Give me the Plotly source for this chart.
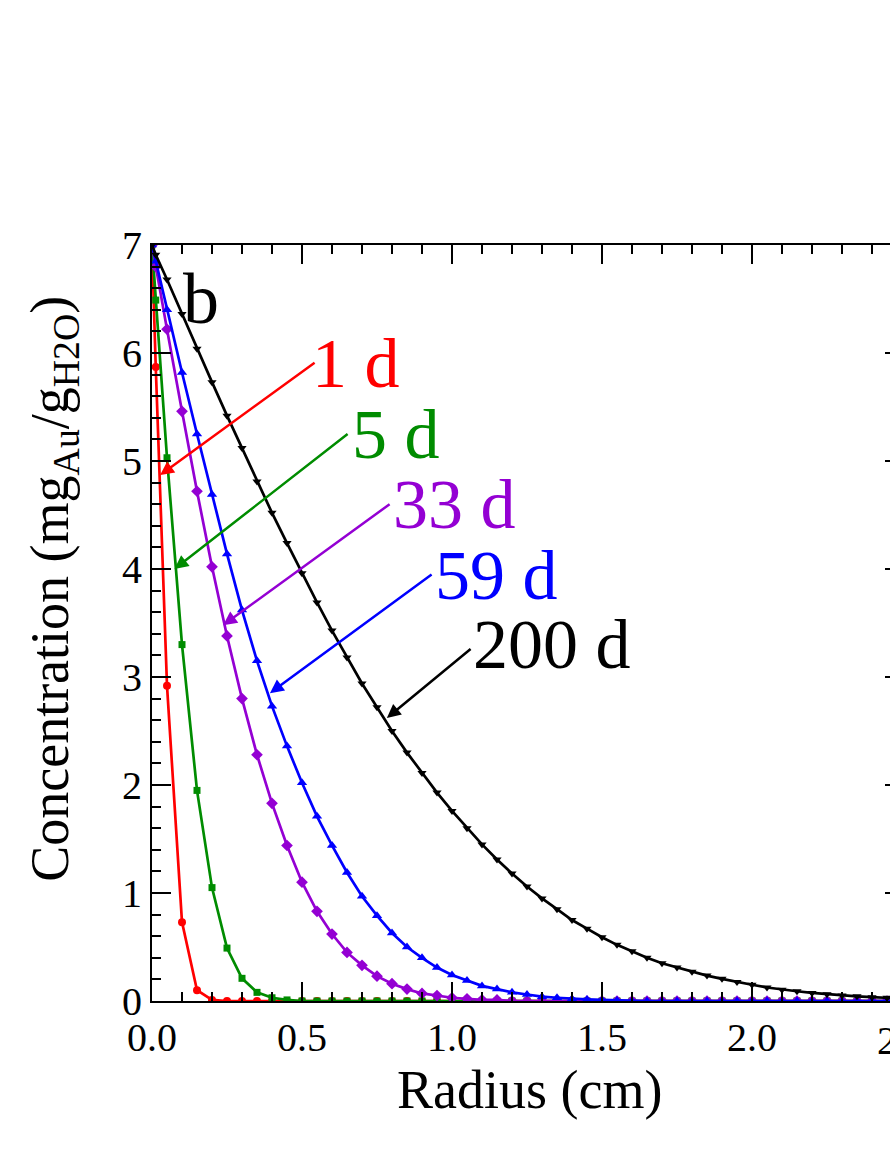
import plotly.graph_objects as go

# ---------------- data ----------------
radius = [0.0, 0.0125, 0.05, 0.10, 0.15, 0.20, 0.25, 0.30, 0.35, 0.40, 0.45, 0.50,
          0.55, 0.60, 0.65, 0.70, 0.75, 0.80, 0.85, 0.90, 0.95, 1.00, 1.05, 1.10,
          1.15, 1.20, 1.25, 1.30, 1.35, 1.40, 1.45, 1.50, 1.55, 1.60, 1.65, 1.70,
          1.75, 1.80, 1.85, 1.90, 1.95, 2.00, 2.05, 2.10, 2.15, 2.20, 2.25, 2.30,
          2.35, 2.40, 2.45, 2.50]

conc_1d = [7.0, 5.87, 2.92, 0.73, 0.10, 0.01] + [0.0] * 46

conc_5d = [7.0, 6.49, 5.03, 3.30, 1.95, 1.05, 0.49, 0.21, 0.08, 0.03, 0.01] + [0.0] * 41

conc_33d = [7.0, 6.80, 6.22, 5.46, 4.72, 4.02, 3.38, 2.80, 2.28, 1.83, 1.44, 1.10,
            0.83, 0.62, 0.45, 0.33, 0.23, 0.16, 0.11, 0.07, 0.05, 0.03, 0.02, 0.01,
            0.01] + [0.0] * 27

conc_59d = [7.0, 6.85, 6.40, 5.82, 5.25, 4.69, 4.14, 3.62, 3.15, 2.73, 2.36, 2.02,
            1.71, 1.44, 1.19, 0.97, 0.79, 0.63, 0.50, 0.40, 0.31, 0.24, 0.19, 0.14,
            0.11, 0.08, 0.06, 0.04, 0.03, 0.02, 0.015, 0.01, 0.005] + [0.0] * 19

conc_200d = [7.0, 6.91, 6.68, 6.36, 6.04, 5.73, 5.42, 5.12, 4.81, 4.52, 4.24, 3.96,
             3.69, 3.43, 3.18, 2.94, 2.72, 2.50, 2.30, 2.11, 1.93, 1.76, 1.60, 1.45,
             1.31, 1.18, 1.06, 0.95, 0.85, 0.75, 0.67, 0.59, 0.52, 0.46, 0.40, 0.35,
             0.31, 0.27, 0.235, 0.205, 0.175, 0.15, 0.125, 0.105, 0.09, 0.075, 0.063,
             0.052, 0.043, 0.035, 0.029, 0.023]

series_labels = ["1 d", "5 d", "33 d", "59 d", "200 d"]
series_data = [conc_1d, conc_5d, conc_33d, conc_59d, conc_200d]
series_colors = ["#ff0000", "#008c00", "#9400d3", "#0000ff", "#000000"]
series_symbols = ["circle", "square", "diamond", "triangle-up", "triangle-down"]
series_msize = [8, 7, 9, 9, 8]

# arrow (head x, head y, tail x, tail y) and label (left x, centre y) in data units
arrow_heads = [(0.027, 4.87), (0.075, 4.0), (0.237, 3.48), (0.393, 2.85), (0.783, 2.62)]
arrow_tails = [(0.547, 5.92), (0.657, 5.26), (0.797, 4.61), (0.937, 3.96), (1.067, 3.27)]
label_pos = [(0.527, 5.90), (0.660, 5.25), (0.797, 4.60), (0.937, 3.94), (1.063, 3.30)]

x_ticks = [0.0, 0.5, 1.0, 1.5, 2.0]
y_ticks = [0, 1, 2, 3, 4, 5, 6, 7]

FONT = "Liberation Serif"

fig = go.Figure()
for lab, ys, col, sym, ms in zip(series_labels, series_data, series_colors,
                                 series_symbols, series_msize):
    fig.add_trace(go.Scatter(
        x=radius, y=ys, mode="lines+markers", name=lab,
        line=dict(color=col, width=2.7),
        marker=dict(symbol=sym, size=ms, color=col, line=dict(width=0)),
        showlegend=False, hoverinfo="skip"))

# dummy trace for right-hand mirrored ticks
fig.add_trace(go.Scatter(x=[0], y=[0], yaxis="y2", mode="markers",
                         marker=dict(size=0.1, opacity=0), showlegend=False,
                         hoverinfo="skip"))

for (hx, hy), (tx, ty), col in zip(arrow_heads, arrow_tails, series_colors):
    fig.add_annotation(x=hx, y=hy, ax=tx, ay=ty, xref="x", yref="y",
                       axref="x", ayref="y", text="", showarrow=True,
                       arrowhead=2, arrowsize=1.1, arrowwidth=2.5, arrowcolor=col)

for (lx, ly), lab, col in zip(label_pos, series_labels, series_colors):
    fig.add_annotation(x=lx, y=ly, xref="x", yref="y", text=lab, showarrow=False,
                       xanchor="left", yanchor="middle",
                       font=dict(family=FONT, size=70, color=col))

# panel letter
fig.add_annotation(x=0.097, y=6.5, xref="x", yref="y", text="b", showarrow=False,
                   xanchor="left", yanchor="middle",
                   font=dict(family=FONT, size=72, color="black"))

# partially visible tick label at the cut right edge
fig.add_annotation(x=(902 - 152) / 738, y=-0.052, xref="paper", yref="paper",
                   text="2.5", showarrow=False, xanchor="center", yanchor="middle",
                   font=dict(family=FONT, size=40, color="black"))

# axis titles
fig.add_annotation(x=0.511, y=-0.118, xref="paper", yref="paper",
                   text="Radius (cm)", showarrow=False, xanchor="center",
                   yanchor="middle", font=dict(family=FONT, size=54, color="black"))
fig.add_annotation(x=-0.133, y=0.545, xref="paper", yref="paper",
                   text="Concentration (mg<sub>Au</sub>/g<sub>H2O</sub>)",
                   textangle=-90, showarrow=False, xanchor="center",
                   yanchor="middle", font=dict(family=FONT, size=54, color="black"))

fig.update_layout(
    width=890, height=1152,
    margin=dict(l=152, r=0, t=245, b=151, pad=0),
    paper_bgcolor="white", plot_bgcolor="white",
    font=dict(family=FONT, color="black"),
    xaxis=dict(range=[0, (890 - 152) / 300], tickvals=x_ticks,
               ticktext=["%.1f" % v for v in x_ticks],
               ticks="inside", ticklen=19, tickwidth=2, tickcolor="black",
               minor=dict(dtick=0.1, ticks="inside", ticklen=9, tickwidth=2,
                          tickcolor="black", showgrid=False),
               showline=True, linecolor="black", linewidth=2, mirror="ticks",
               showgrid=False, zeroline=False,
               tickfont=dict(family=FONT, size=40, color="black")),
    yaxis=dict(range=[0, 7], tickvals=y_ticks, ticks="inside", ticklen=19,
               tickwidth=2, tickcolor="black",
               minor=dict(dtick=0.2, ticks="inside", ticklen=9, tickwidth=2,
                          tickcolor="black", showgrid=False),
               showline=True, linecolor="black", linewidth=2, mirror=False,
               showgrid=False, zeroline=False,
               tickfont=dict(family=FONT, size=40, color="black")),
    yaxis2=dict(range=[0, 7], overlaying="y", side="right", tickvals=y_ticks[1:-1],
                ticks="inside", ticklen=5, tickwidth=2, tickcolor="black",
                showticklabels=False, showline=False, showgrid=False,
                zeroline=False),
)

fig.write_html("out.html", config={"displayModeBar": False},
               post_script="document.body.style.margin='0px';document.body.style.overflow='hidden';")
